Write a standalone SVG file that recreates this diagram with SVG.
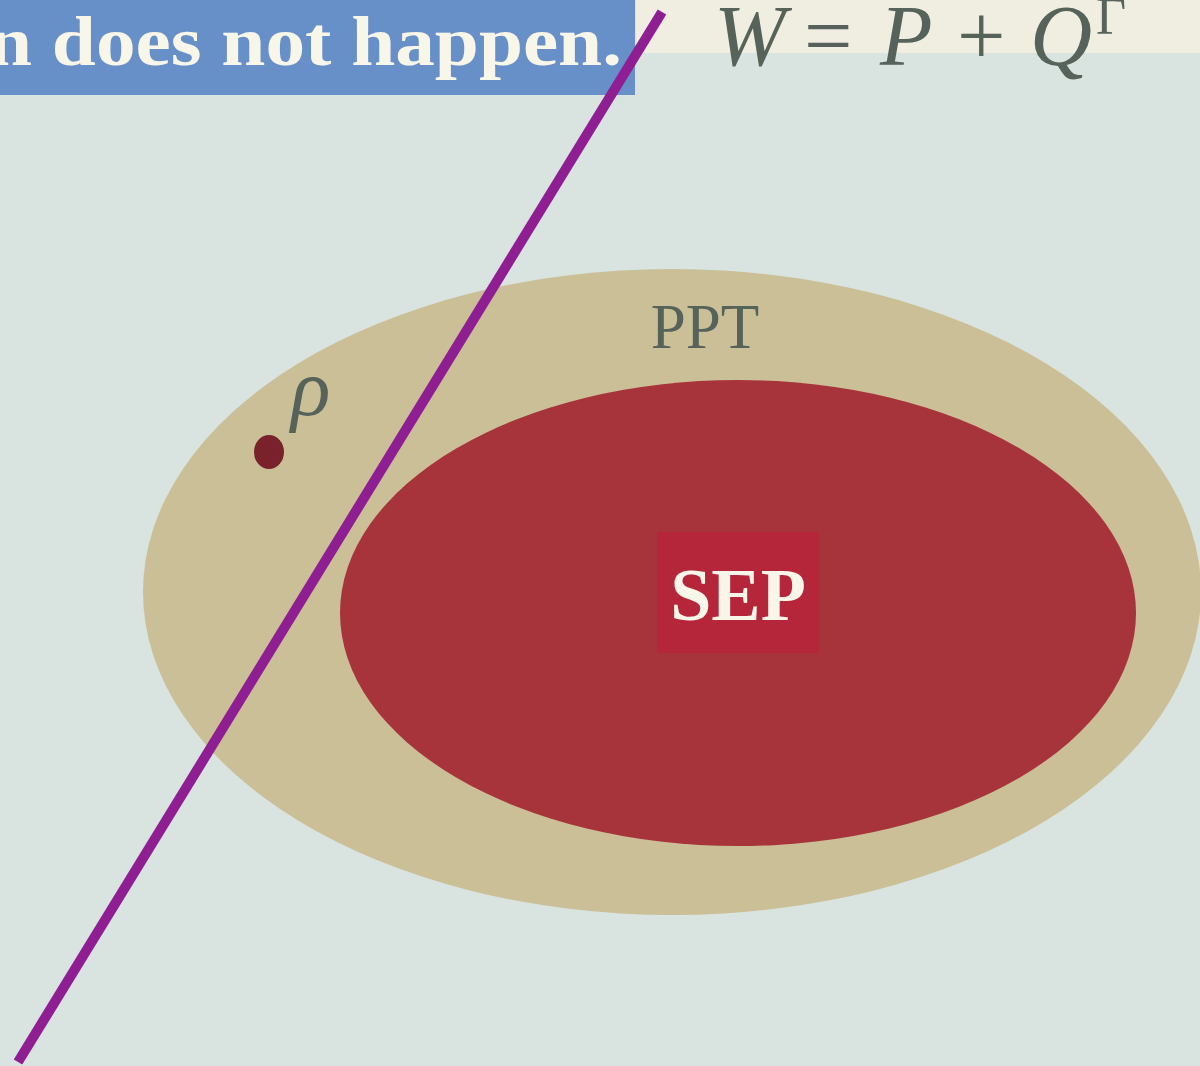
<svg xmlns="http://www.w3.org/2000/svg" width="1200" height="1066" viewBox="0 0 1200 1066">
<style>
.serif{font-family:"Liberation Serif","DejaVu Serif",serif}
.math{font-family:"Liberation Serif","DejaVu Serif",serif;font-style:italic;fill:#56635a}
.up{font-family:"Liberation Serif","DejaVu Serif",serif;fill:#56635a}
</style>
<rect x="0" y="0" width="1200" height="1066" fill="#d9e4e0"/>
<rect x="636" y="0" width="564" height="53" fill="#efeee0"/>
<g id="banner">
<rect x="0" y="0" width="635" height="95" fill="#6790c8"/>
<text class="serif" x="-12" y="65" font-size="70" font-weight="bold" fill="#f8f6e8" textLength="634" lengthAdjust="spacingAndGlyphs">n does not happen.</text>
</g>
<g id="formula">
<text class="math" x="714" y="65" font-size="86">W</text>
<text class="up" x="804" y="65" font-size="86">=</text>
<text class="math" x="880" y="65" font-size="86">P</text>
<text class="up" x="957" y="65" font-size="86">+</text>
<text class="math" x="1030" y="65" font-size="86">Q</text>
<text class="up" x="1096" y="34" font-size="52">Γ</text>
</g>
<g id="ppt">
<ellipse cx="672" cy="592" rx="529" ry="323" fill="#cbbf97"/>
<text class="serif" x="705" y="348" text-anchor="middle" font-size="63" fill="#55635a">PPT</text>
</g>
<g id="sep">
<ellipse cx="738" cy="613" rx="398" ry="233" fill="#a8343b"/>
<rect x="657" y="532" width="162" height="121" fill="#b5263a"/>
<text class="serif" x="738" y="620" text-anchor="middle" font-size="74" font-weight="bold" fill="#f8f6e8">SEP</text>
</g>
<g id="rho">
<ellipse cx="269" cy="452" rx="15" ry="17" fill="#7a222b"/>
<text class="math" x="291" y="415" font-size="82">ρ</text>
</g>
<g id="connectors">
<line x1="662" y1="12" x2="18" y2="1062" stroke="#8e1e92" stroke-width="10"/>
</g>
</svg>
